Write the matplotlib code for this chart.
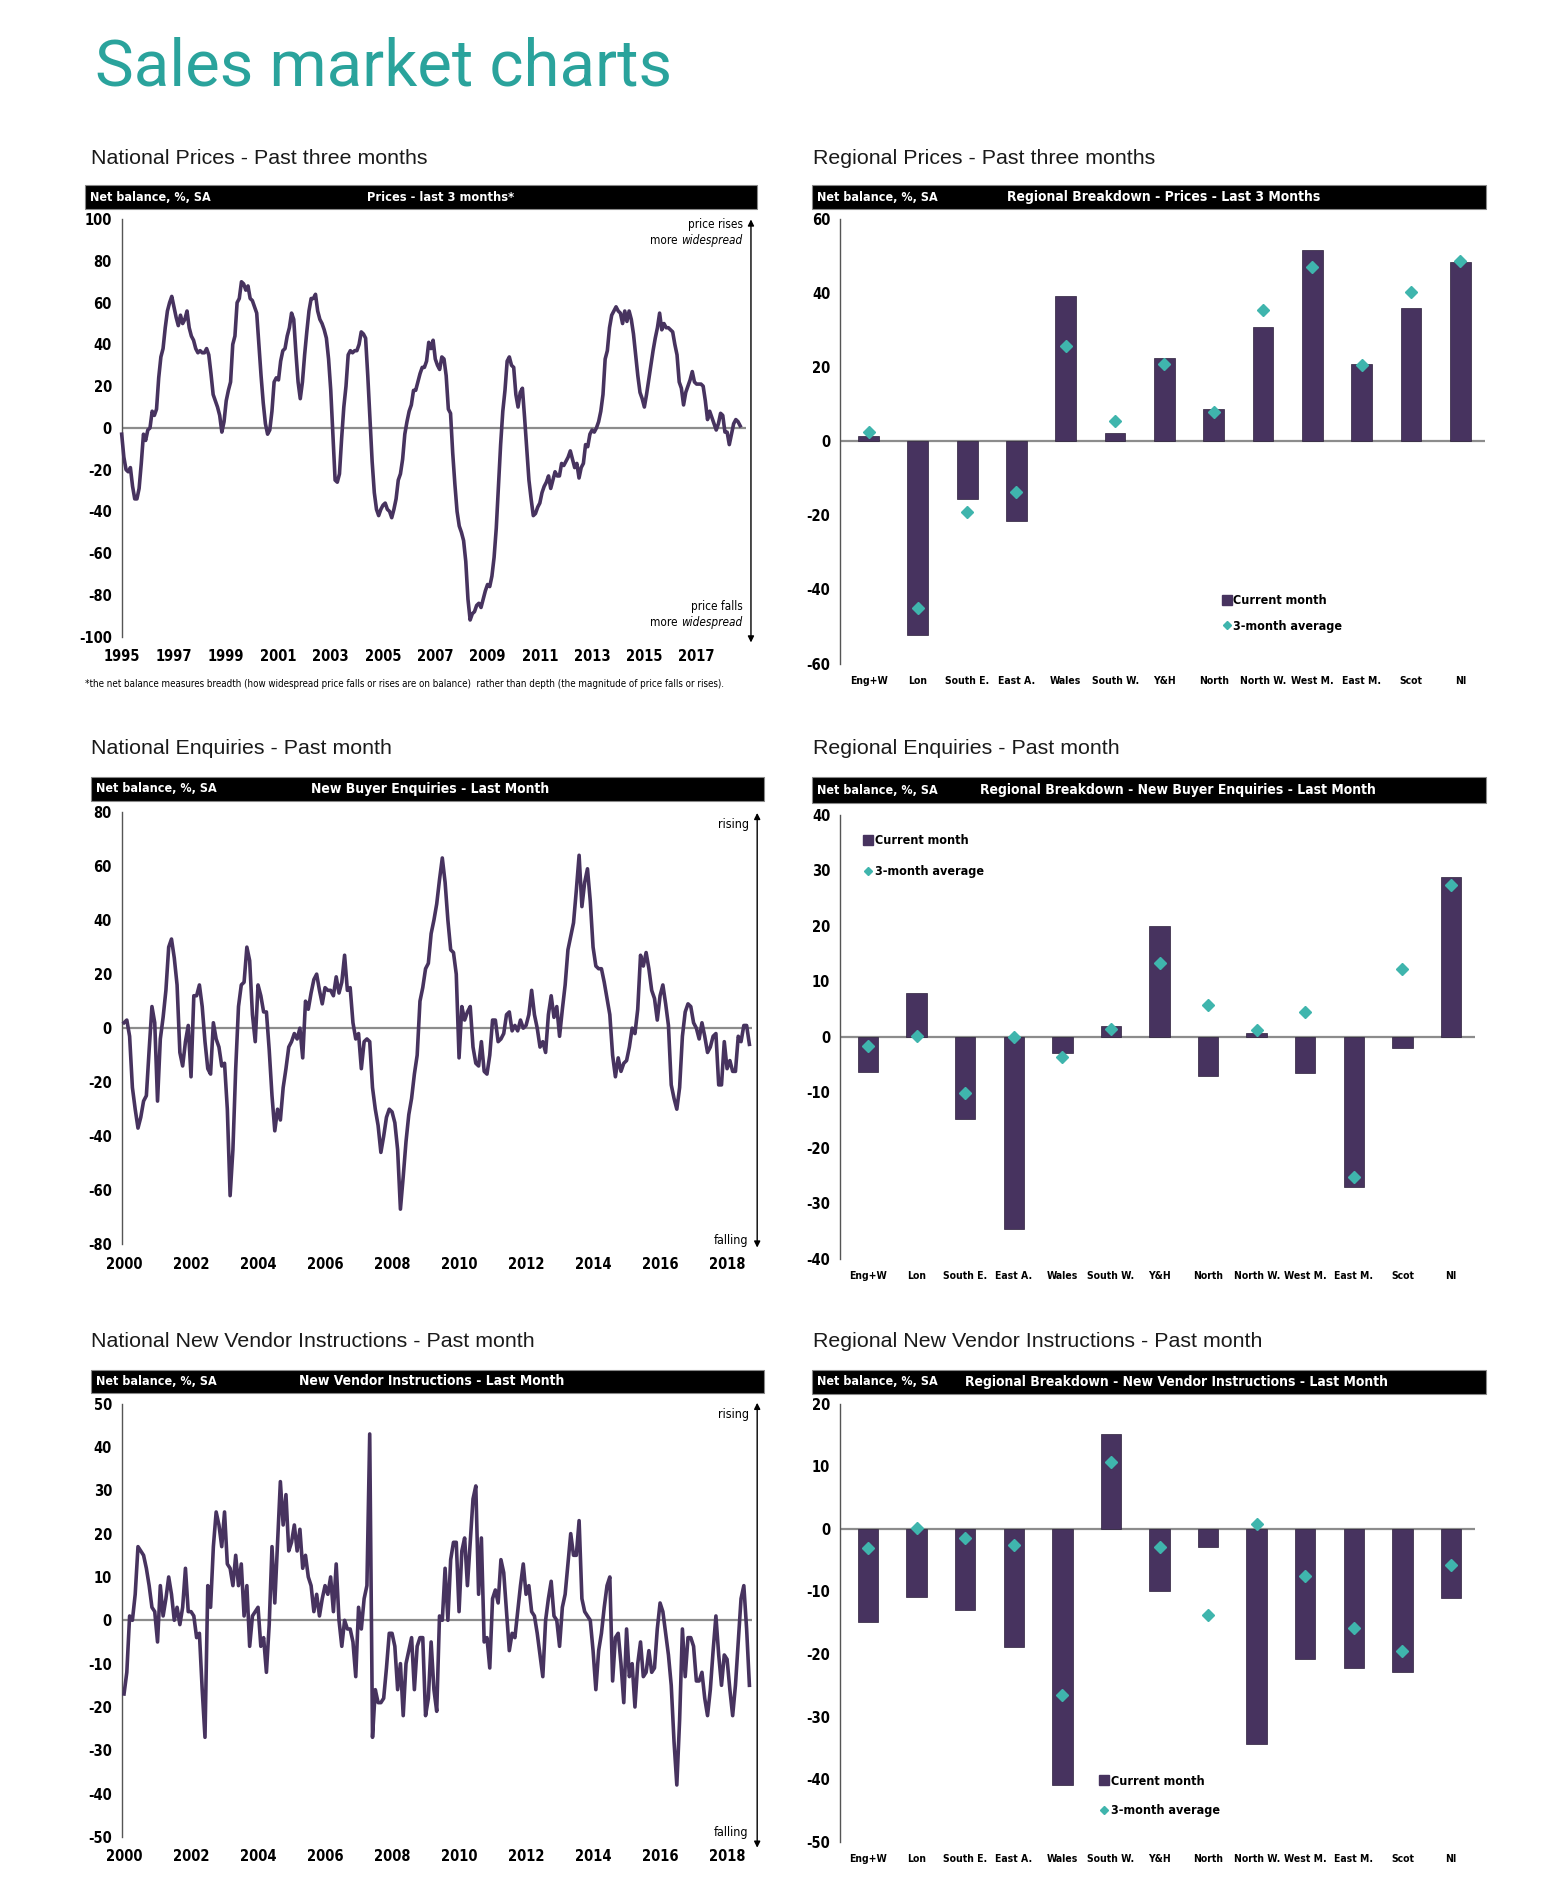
import numpy as np
import matplotlib
matplotlib.use("Agg")
from matplotlib import pyplot as plt
from matplotlib.patches import Rectangle, FancyArrowPatch
from matplotlib.lines import Line2D

# condensed sans for the chart texts, like the narrow font of the original
plt.rcParams['font.family'] = ['DejaVu Sans']
plt.rcParams['font.stretch'] = 'condensed'
plt.rcParams['axes.unicode_minus'] = False

PURPLE = '#47335f'
TEAL = '#3fb5ad'
TITLE_TEAL = '#2aa39c'
ZERO_GREY = '#8c8c8c'

# ---- national series, monthly ----
nat_prices = [
    -3, -14, -20, -21, -19, -28, -34, -34, -29, -17, -3, -6,      # 1995
    -1, 0, 8, 6, 9, 24, 34, 38, 48, 56, 60, 63,                   # 1996
    58, 53, 49, 54, 50, 52, 56, 48, 44, 42, 38, 36,               # 1997
    37, 36, 36, 38, 35, 26, 16, 13, 10, 6, -2, 3,                 # 1998
    13, 18, 22, 40, 44, 60, 62, 70, 69, 66, 68, 62,               # 1999
    61, 58, 55, 40, 25, 12, 2, -3, -1, 8, 22, 24,                 # 2000
    23, 32, 37, 38, 44, 48, 55, 52, 36, 22, 14, 22,               # 2001
    35, 46, 56, 62, 62, 64, 56, 52, 50, 47, 43, 33,               # 2002
    18, -3, -25, -26, -22, -5, 10, 20, 35, 37, 36, 37,            # 2003
    37, 40, 46, 45, 43, 25, 4, -16, -31, -39, -42, -39,           # 2004
    -37, -36, -39, -40, -43, -39, -34, -25, -22, -15, -3, 3,      # 2005
    8, 11, 18, 18, 22, 26, 29, 29, 32, 41, 38, 42,                # 2006
    33, 30, 28, 34, 33, 25, 9, 7, -12, -27, -40, -47,             # 2007
    -50, -54, -64, -82, -92, -89, -88, -85, -84, -86, -82, -78,   # 2008
    -75, -76, -71, -62, -48, -28, -8, 8, 18, 32, 34, 30,          # 2009
    29, 16, 10, 17, 19, 5, -10, -25, -34, -42, -41, -38,          # 2010
    -36, -31, -28, -26, -23, -29, -25, -21, -23, -23, -17, -18,   # 2011
    -16, -14, -11, -15, -19, -17, -24, -19, -17, -8, -9, -3,      # 2012
    -1, -2, 0, 3, 8, 16, 33, 37, 48, 54, 56, 58,                  # 2013
    56, 55, 50, 56, 51, 56, 52, 45, 35, 25, 17, 14,               # 2014
    10, 16, 23, 30, 37, 43, 48, 55, 47, 50, 48, 48,               # 2015
    47, 46, 40, 35, 22, 19, 11, 17, 20, 23, 27, 22,               # 2016
    21, 21, 21, 20, 13, 4, 8, 5, 2, -1, 2, 7,                     # 2017
    6, -2, -2, -8, -3, 2, 4, 3, 1,                                # 2018
]

nat_enquiries = [
    2, 3, -3, -22, -30, -37, -33, -27, -25, -8, 8, 2,             # 2000
    -27, -4, 4, 14, 30, 33, 26, 16, -9, -14, -5, 1,               # 2001
    -18, 12, 12, 16, 8, -5, -15, -17, 2, -4, -7, -14,             # 2002
    -13, -30, -62, -45, -15, 8, 16, 17, 30, 25, 5, -5,            # 2003
    16, 12, 6, 6, -8, -25, -38, -30, -34, -22, -15, -7,           # 2004
    -5, -2, -4, 0, -11, 10, 7, 13, 18, 20, 14, 9,                 # 2005
    15, 14, 14, 12, 19, 13, 17, 27, 14, 15, 2, -4,                # 2006
    -2, -15, -5, -4, -5, -22, -30, -36, -46, -40, -33, -30,       # 2007
    -31, -35, -45, -67, -55, -42, -32, -26, -17, -10, 10, 15,     # 2008
    22, 24, 35, 40, 46, 55, 63, 54, 40, 29, 28, 20,               # 2009
    -11, 8, 3, 6, 8, -7, -13, -14, -5, -16, -17, -10,             # 2010
    3, 3, -5, -4, -2, 5, 6, -1, 1, -1, 3, 0,                      # 2011
    1, 5, 14, 5, 0, -7, -5, -9, 5, 12, 4, 8,                      # 2012
    -3, 7, 16, 29, 34, 39, 51, 64, 45, 54, 59, 47,                # 2013
    30, 23, 22, 22, 17, 11, 5, -10, -18, -11, -16, -13,           # 2014
    -12, -7, 0, -2, 7, 27, 23, 28, 22, 14, 11, 3,                 # 2015
    12, 16, 9, 1, -21, -26, -30, -22, -3, 6, 9, 8,                # 2016
    2, 0, -4, 2, -3, -9, -7, -3, -2, -21, -21, -5,                # 2017
    -15, -12, -16, -16, -3, -5, 1, 1, -6,                         # 2018
]

nat_vendor = [
    -17, -12, 1, 0, 6, 17, 16, 15, 12, 8, 3, 2,                   # 2000
    -5, 8, 1, 5, 10, 6, 0, 3, -1, 3, 12, 2,                       # 2001
    2, 1, -4, -3, -16, -27, 8, 3, 17, 25, 22, 17,                 # 2002
    25, 13, 12, 8, 15, 8, 13, 1, 8, -6, 1, 2,                     # 2003
    3, -6, -4, -12, -1, 17, 4, 18, 32, 22, 29, 16,                # 2004
    18, 22, 16, 21, 12, 15, 10, 8, 2, 6, 1, 5,                    # 2005
    8, 6, 10, 2, 13, 0, -6, 0, -2, -2, -5, -13,                   # 2006
    3, -2, 5, 8, 43, -27, -16, -19, -19, -18, -11, -3,            # 2007
    -3, -6, -16, -10, -22, -10, -7, -4, -16, -6, -4, -4,          # 2008
    -22, -18, -5, -16, -21, 1, 0, 12, 0, 14, 18, 18,              # 2009
    2, 16, 19, 8, 18, 28, 31, 6, 19, -5, -4, -11,                 # 2010
    5, 7, 4, 14, 11, 2, -7, -3, -4, 2, 8, 13,                     # 2011
    6, 8, 2, 1, -3, -8, -13, 0, 5, 9, 1, 0,                       # 2012
    -6, 3, 6, 13, 20, 15, 15, 23, 5, 2, 1, 0,                     # 2013
    -7, -16, -7, -3, 3, 8, 10, -14, -4, -3, -10, -19,             # 2014
    -2, -13, -10, -20, -10, -5, -13, -12, -7, -12, -11, -2,       # 2015
    4, 2, -3, -8, -15, -28, -38, -23, -2, -13, -4, -4,            # 2016
    -6, -14, -14, -12, -18, -22, -16, -7, 1, -8, -15, -8,         # 2017
    -9, -16, -22, -15, -5, 5, 8, -2, -15,                         # 2018
]

# ---- regional breakdown ----
regions = ["Eng+W", "Lon", "South E.", "East A.", "Wales", "South W.", "Y&H",
           "North", "North W.", "West M.", "East M.", "Scot", "NI"]
reg_prices_cur = [1.4, -52.4, -15.6, -21.5, 39.3, 2.3, 22.6, 8.8, 31.0, 51.8, 20.8, 36.1, 48.3]
reg_prices_avg = [2.5, -45.0, -19.2, -13.8, 25.7, 5.6, 21.0, 8.0, 35.5, 47.2, 20.6, 40.2, 48.8]
reg_enq_cur = [-6.3, 7.9, -14.9, -34.6, -3.0, 1.9, 19.9, -7.0, 0.7, -6.6, -27.1, -2.1, 28.8]
reg_enq_avg = [-1.6, 0.2, -10.2, -0.1, -3.6, 1.3, 13.3, 5.7, 1.2, 4.5, -25.3, 12.2, 27.3]
reg_vend_cur = [-14.9, -10.9, -13.0, -18.9, -40.9, 15.2, -10.0, -2.9, -34.3, -20.8, -22.2, -22.8, -11.1]
reg_vend_avg = [-3.1, 0.1, -1.4, -2.5, -26.6, 10.7, -2.9, -13.7, 0.7, -7.6, -15.8, -19.5, -5.8]

fig = plt.figure(figsize=(15.58, 19.04), dpi=100)


def header_bar(x0, x1, y0, h, title, title_x, title_size=10):
    fig.add_artist(Rectangle((x0, y0), x1 - x0, h, transform=fig.transFigure,
                             facecolor='black', edgecolor='#888888', lw=0.8))
    fig.text(x0 + 0.003, y0 + h / 2, "Net balance, %, SA", color='white',
             fontsize=9, fontweight='bold', va='center', ha='left')
    fig.text(title_x, y0 + h / 2, title, color='white', fontsize=title_size,
             fontweight='bold', va='center', ha='center')


def style_axes(ax, xpad, ypad, xsize):
    for s in ['top', 'right', 'bottom']:
        ax.spines[s].set_visible(False)
    ax.spines['left'].set_color('#555555')
    ax.spines['left'].set_linewidth(1.0)
    ax.tick_params(axis='y', length=0, labelsize=10.5, pad=ypad)
    ax.tick_params(axis='x', length=0, labelsize=xsize, pad=xpad)
    for lab in ax.get_xticklabels() + ax.get_yticklabels():
        lab.set_fontweight('bold')


def line_panel(rect, start, vals, ylim, ystep, xticks, xlim):
    ax = fig.add_axes(rect)
    x = start + np.arange(len(vals)) / 12.0
    ax.plot(x, vals, color=PURPLE, lw=2.6, solid_joinstyle='round', zorder=3, clip_on=False)
    ax.axhline(0, color=ZERO_GREY, lw=1.6, zorder=2)
    ax.set_xlim(xlim)
    ax.set_ylim(ylim)
    ax.set_yticks(np.arange(ylim[0], ylim[1] + 1, ystep))
    ax.set_xticks(xticks)
    ax.set_xticklabels([str(t) for t in xticks])
    style_axes(ax, 9, 7, 10.5)
    return ax


def bar_panel(rect, cur, avg, ylim, ystep, leg_anchor, leg_spacing):
    ax = fig.add_axes(rect)
    pos = np.arange(len(regions))
    ax.axhline(0, color=ZERO_GREY, lw=1.6, zorder=1)
    ax.bar(pos, cur, width=0.42, color=PURPLE, edgecolor='#2b1f3a', lw=0.5, zorder=2)
    ax.plot(pos, avg, ls='none', marker='D', markersize=6, color=TEAL, zorder=3)
    ax.set_xlim(-0.58, 12.5)
    ax.set_ylim(ylim)
    ax.set_yticks(np.arange(ylim[0], ylim[1] + 1, ystep))
    ax.set_xticks(pos)
    ax.set_xticklabels(regions)
    style_axes(ax, 9, 7, 7.5)
    handles = [Line2D([], [], ls='none', marker='s', markersize=7, color=PURPLE),
               Line2D([], [], ls='none', marker='D', markersize=4.5, color=TEAL)]
    fig.legend(handles, ["Current month", "3-month average"], loc='upper left',
               bbox_to_anchor=leg_anchor, bbox_transform=fig.transFigure, frameon=False,
               handlelength=0.6, handletextpad=0.2, borderpad=0, borderaxespad=0,
               labelspacing=leg_spacing, prop={'size': 9, 'weight': 'bold', 'stretch': 'condensed'})
    return ax


def side_arrow(x, y_top, y_bot):
    fig.add_artist(FancyArrowPatch((x, y_bot), (x, y_top), transform=fig.transFigure,
                                   arrowstyle='<|-|>', mutation_scale=9, color='black', lw=1.0))


def more_widespread(ax, x, y):
    t = fig.text(x, y, "widespread", style='italic', ha='right', va='baseline', fontsize=8.5)
    ax.annotate("more ", xy=(0, 0), xycoords=t, ha='right', va='bottom', fontsize=8.5)


# ---- page title and section headings ----
fig.text(0.061, 0.9552, "Sales market charts", color=TITLE_TEAL, fontsize=47,
         family=['Roboto', 'DejaVu Sans'], fontweight='normal', fontstretch='normal', va='baseline')

head_font = ['Liberation Sans', 'DejaVu Sans']
for xh, yh, txt in [(0.0586, 0.9169, "National Prices - Past three months"),
                    (0.5220, 0.9169, "Regional Prices - Past three months"),
                    (0.0586, 0.6068, "National Enquiries - Past month"),
                    (0.5220, 0.6068, "Regional Enquiries - Past month"),
                    (0.0586, 0.2954, "National New Vendor Instructions - Past month"),
                    (0.5220, 0.2954, "Regional New Vendor Instructions - Past month")]:
    fig.text(xh, yh, txt, fontsize=15.4, family=head_font, fontstretch='normal',
             va='center', ha='left', color='#1a1a1a')

# ---- row 1 ----
header_bar(0.0547, 0.4859, 0.8900, 0.0128, "Prices - last 3 months*", 0.283, 9.2)
ax1 = line_panel([0.0781, 0.6656, 0.4009, 0.2193], 1995, nat_prices, (-100, 100), 20,
                 list(range(1995, 2018, 2)), (1995, 2018.9))
side_arrow(0.482, 0.8862, 0.6611)
fig.text(0.4766, 0.8804, "price rises", ha='right', va='baseline', fontsize=8.5)
more_widespread(ax1, 0.4766, 0.8721)
fig.text(0.4766, 0.6794, "price falls", ha='right', va='baseline', fontsize=8.5)
more_widespread(ax1, 0.4766, 0.6711)
fig.text(0.0547, 0.6407, "*the net balance measures breadth (how widespread price falls or rises are on balance)  "
         "rather than depth (the magnitude of price falls or rises).", fontsize=7, va='center', ha='left')

header_bar(0.5211, 0.9539, 0.8900, 0.0128, "Regional Breakdown - Prices - Last 3 Months", 0.747)
bar_panel([0.5391, 0.6515, 0.4140, 0.2334], reg_prices_cur, reg_prices_avg, (-60, 60), 20,
          (0.7850, 0.6880), 1.0)

# ---- row 2 ----
header_bar(0.0586, 0.4906, 0.5793, 0.0128, "New Buyer Enquiries - Last Month", 0.276)
ax3 = line_panel([0.0781, 0.3465, 0.4047, 0.2270], 2000, nat_enquiries, (-80, 80), 20,
                 list(range(2000, 2019, 2)), (1999.93, 2018.75))
side_arrow(0.486, 0.5745, 0.3433)
fig.text(0.4805, 0.5668, "rising", ha='right', va='center', fontsize=9)
fig.text(0.4805, 0.3485, "falling", ha='right', va='center', fontsize=9)

header_bar(0.5211, 0.9539, 0.5780, 0.0141, "Regional Breakdown - New Buyer Enquiries - Last Month", 0.756)
bar_panel([0.5391, 0.3389, 0.4078, 0.2333], reg_enq_cur, reg_enq_avg, (-40, 40), 10,
          (0.5550, 0.5618), 1.45)

# ---- row 3 ----
header_bar(0.0586, 0.4906, 0.2685, 0.0121, "New Vendor Instructions - Last Month", 0.277)
ax5 = line_panel([0.0781, 0.0352, 0.4047, 0.2276], 2000, nat_vendor, (-50, 50), 10,
                 list(range(2000, 2019, 2)), (1999.93, 2018.75))
side_arrow(0.486, 0.2647, 0.0281)
fig.text(0.4805, 0.2570, "rising", ha='right', va='center', fontsize=9)
fig.text(0.4805, 0.0377, "falling", ha='right', va='center', fontsize=9)

header_bar(0.5211, 0.9539, 0.2679, 0.0128, "Regional Breakdown - New Vendor Instructions - Last Month", 0.755)
bar_panel([0.5391, 0.0326, 0.4078, 0.2302], reg_vend_cur, reg_vend_avg, (-50, 20), 10,
          (0.7065, 0.0680), 1.35)

fig.savefig("out.png", dpi=100, facecolor='white')
